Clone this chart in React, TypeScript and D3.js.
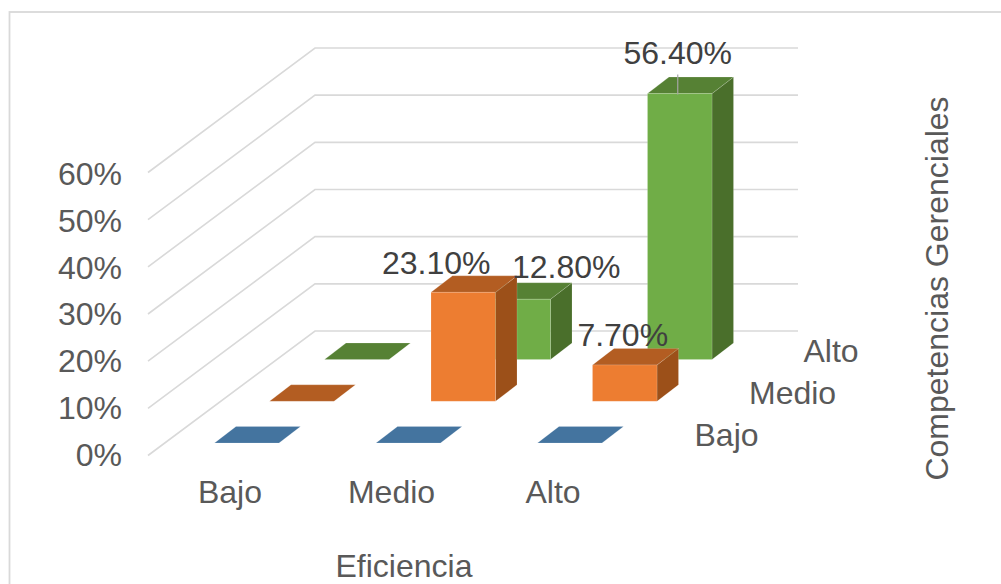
import * as d3 from "d3";

// Competencias Gerenciales (depth axis) crossed with Eficiencia (category axis)
const categories = ["Bajo", "Medio", "Alto"];
const seriesNames = ["Bajo", "Medio", "Alto"];
const valuesBajo = [0, 0, 0];
const valuesMedio = [0, 23.1, 7.7];
const valuesAlto = [0, 12.8, 56.4];
const yTicks = [0, 10, 20, 30, 40, 50, 60];

const seriesValues = [valuesBajo, valuesMedio, valuesAlto];

const palette = [
  { front: "#5b9bd5", top: "#44749f", side: "#2f5f8a" },
  { front: "#ed7d31", top: "#b35d22", side: "#9c5019" },
  { front: "#70ad47", top: "#568134", side: "#4a6f2b" },
];

const FONT = "'Liberation Sans', Arial, sans-serif";
const FONT_SIZE = 32;
const GRID = "#d9d9d9";
const AXIS_TEXT = "#595959";
const VALUE_TEXT = "#404040";

// Oblique projection of the 3D box layout
const barWidth = 64.5;
const barDepth = { dx: 21.5, dy: 16.5 };
const xCategory = d3.scalePoint<string>().domain(categories).range([214.5, 537.5]);
const depthIndex = d3.scalePoint<string>().domain(seriesNames).range([0, 2]);
const seriesShift = { dx: 55, dy: -41.7 };
const floorY = 443;
const rise = d3.scaleLinear().domain([0, 60]).range([0, 283]);
// The value axis labels sit on a slightly tighter pitch than the gridlines
const tickBaseline = d3.scaleLinear().domain([0, 60]).range([465.5, 185]);

// Gridlines run from the front-left wall edge to the back wall
const wall = { frontX: 148, frontY: 455.5, backX: 315, backY: 331, rightX: 798 };

// Data label nudges, relative to the front-top centre of each box (category-series)
const labelOffsets: Record<string, [number, number]> = {
  "1-1": [-27, -18],
  "1-2": [48, -21],
  "2-1": [-2, -19],
  "2-2": [-2, -30],
};

const polygon = d3.line<[number, number]>().curve(d3.curveLinearClosed);
const polyline = d3.line<[number, number]>();

function formatValue(v: number) {
  return `${v.toFixed(2)}%`;
}

function Box({ c, s }: { c: number; s: number }) {
  const value = seriesValues[s][c];
  const d = depthIndex(seriesNames[s]) as number;
  const x0 = (xCategory(categories[c]) as number) + d * seriesShift.dx;
  const x1 = x0 + barWidth;
  const base = floorY + d * seriesShift.dy;
  const top = base - rise(value);
  const { dx, dy } = barDepth;
  const colors = palette[s];
  const edge = { stroke: "#ffffff", strokeOpacity: 0.25, strokeWidth: 0.6 };

  const topFace: [number, number][] = [[x0, top], [x1, top], [x1 + dx, top - dy], [x0 + dx, top - dy]];
  if (value === 0) {
    return <path d={polygon(topFace) as string} fill={colors.top} {...edge} />;
  }
  const frontFace: [number, number][] = [[x0, top], [x1, top], [x1, base], [x0, base]];
  const sideFace: [number, number][] = [[x1, top], [x1 + dx, top - dy], [x1 + dx, base - dy], [x1, base]];
  return (
    <g>
      <path d={polygon(sideFace) as string} fill={colors.side} {...edge} />
      <path d={polygon(topFace) as string} fill={colors.top} {...edge} />
      <path d={polygon(frontFace) as string} fill={colors.front} {...edge} />
    </g>
  );
}

export default function App() {
  const drawOrder: [number, number][] = [];
  for (let s = seriesNames.length - 1; s >= 0; s--) {
    for (let c = 0; c < categories.length; c++) drawOrder.push([c, s]);
  }

  const labelled = drawOrder.filter(([c, s]) => seriesValues[s][c] > 0);

  const leaderC = 2;
  const leaderS = 2;
  const leaderD = depthIndex(seriesNames[leaderS]) as number;
  const leaderX = (xCategory(categories[leaderC]) as number) + leaderD * seriesShift.dx + barWidth / 2 - 2;
  const leaderBase = floorY + leaderD * seriesShift.dy - rise(seriesValues[leaderS][leaderC]);

  return (
    <svg
      width={1001}
      height={584}
      viewBox="0 0 1001 584"
      style={{ position: "absolute", left: 0, top: 0, display: "block", background: "#fff" }}
      fontFamily={FONT}
      fontSize={FONT_SIZE}
    >
      {/* Chart frame, running off the right and bottom edges */}
      <rect x={9.5} y={12} width={1040} height={620} fill="#fff" stroke={GRID} strokeWidth={1.8} />

      {/* Value gridlines */}
      {yTicks.map((t) => {
        const h = rise(t);
        const pts: [number, number][] = [
          [wall.frontX, wall.frontY - h],
          [wall.backX, wall.backY - h],
          [wall.rightX, wall.backY - h],
        ];
        return <path key={t} d={polyline(pts) as string} fill="none" stroke={GRID} strokeWidth={1.6} />;
      })}

      {/* Value axis labels */}
      {yTicks.map((t) => (
        <text key={t} x={122} y={tickBaseline(t)} textAnchor="end" fill={AXIS_TEXT}>
          {`${t}%`}
        </text>
      ))}

      {/* Boxes, painted from the back row forward */}
      {drawOrder.map(([c, s]) => (
        <Box key={`${c}-${s}`} c={c} s={s} />
      ))}

      {/* Leader line for the tallest box */}
      <line x1={leaderX} x2={leaderX} y1={leaderBase - 19} y2={leaderBase + 1} stroke="#a6a6a6" strokeWidth={1.2} />

      {/* Value labels */}
      {labelled.map(([c, s]) => {
        const d = depthIndex(seriesNames[s]) as number;
        const value = seriesValues[s][c];
        const cx = (xCategory(categories[c]) as number) + d * seriesShift.dx + barWidth / 2;
        const top = floorY + d * seriesShift.dy - rise(value);
        const [ox, oy] = labelOffsets[`${c}-${s}`];
        return (
          <text key={`${c}-${s}`} x={cx + ox} y={top + oy} textAnchor="middle" fill={VALUE_TEXT}>
            {formatValue(value)}
          </text>
        );
      })}

      {/* Category labels */}
      {categories.map((name) => (
        <text key={name} x={(xCategory(name) as number) + 15.5} y={503} textAnchor="middle" fill={AXIS_TEXT}>
          {name}
        </text>
      ))}

      {/* Depth axis labels */}
      {seriesNames.map((name) => {
        const d = depthIndex(name) as number;
        return (
          <text key={name} x={694.5 + d * 54.5} y={floorY + 2.5 + d * seriesShift.dy} fill={AXIS_TEXT}>
            {name}
          </text>
        );
      })}

      {/* Axis titles */}
      <text x={404} y={577} textAnchor="middle" fill={AXIS_TEXT}>
        Eficiencia
      </text>
      <text transform="translate(948,288.5) rotate(-90)" textAnchor="middle" fill={AXIS_TEXT}>
        Competencias Gerenciales
      </text>
    </svg>
  );
}
